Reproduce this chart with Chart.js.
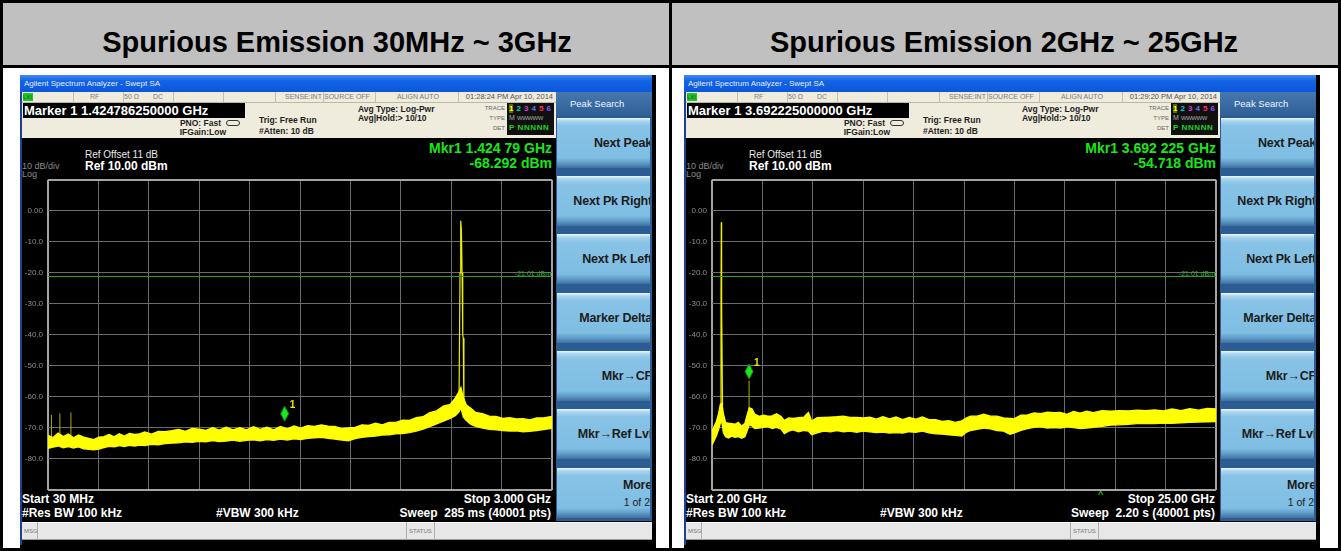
<!DOCTYPE html>
<html>
<head>
<meta charset="utf-8">
<title>Spurious Emission</title>
<script src="https://cdn.jsdelivr.net/npm/chart.js@4.4.0/dist/chart.umd.min.js"></script>
<style>
    html, body { margin: 0; padding: 0; background: #fff; }
    body { width: 1341px; height: 551px; position: relative; overflow: hidden; font-family: "Liberation Sans", Arial, sans-serif; }
    .abs { position: absolute; }
    .t { position: absolute; white-space: nowrap; height: 20px; line-height: 20px; }
    .cell { position: absolute; top: 0; height: 10px; border-left: 1px solid #c4bfae; }
    .key { position: absolute; overflow: hidden; height: 50px;
        background: linear-gradient(to bottom, #eef8fd 0px, #a9d5ef 3px, #88c3e6 8px, #7fbde3 40px, #5f9bc7 45px, #3f6f9d 50px); }
    canvas { position: absolute; }
</style>
</head>
<body>
<div id="page"></div>
<script>
// table titles
var titles = ['Spurious Emission 30MHz ~ 3GHz', 'Spurious Emission 2GHz ~ 25GHz'];

// amplitude axis (dBm)
var yMin = -90, yMax = 10, yStep = 10;
var displayLine = -21.01;

// ---- left screen: 30 MHz .. 3 GHz, x in MHz ----
var leftStart = 30, leftStop = 3000;
var leftFreq = [30, 60, 90, 120, 150, 180, 210, 240, 270, 300, 330, 360, 390, 420, 450, 480, 510, 540, 570, 600,
    640, 680, 720, 760, 800, 840, 880, 920, 960, 1000, 1040, 1080, 1120, 1160, 1200, 1240, 1280, 1320, 1360, 1400,
    1440, 1480, 1520, 1560, 1600, 1640, 1680, 1720, 1760, 1800, 1840, 1880, 1920, 1960, 2000, 2040, 2080, 2120, 2160, 2200,
    2240, 2280, 2320, 2360, 2400, 2430, 2450, 2463, 2478, 2495, 2520, 2550, 2590, 2630, 2670, 2710, 2750, 2790, 2830, 2870,
    2910, 2950, 3000];
var leftUpper = [-72.4, -73.1, -71.7, -72.8, -72.0, -73.2, -72.3, -73.0, -73.4, -73.8, -73.0, -72.8, -72.1, -72.9, -71.9, -72.6, -71.8, -72.1, -71.9, -71.3,
    -72.0, -71.1, -71.2, -70.9, -70.5, -71.1, -70.2, -70.4, -70.8, -69.9, -70.7, -69.8, -70.6, -69.9, -70.6, -69.6, -70.5, -69.8, -70.6, -69.5,
    -70.3, -69.4, -70.1, -69.3, -69.5, -69.0, -69.4, -69.5, -70.2, -70.0, -69.8, -69.0, -69.2, -68.5, -69.0, -68.2, -68.2, -67.5, -67.6, -66.7,
    -66.4, -65.1, -64.5, -63.0, -62.4, -60.4, -58.5, -57.0, -60.3, -62.6, -63.6, -65.0, -65.4, -66.2, -66.3, -66.9, -66.7, -67.1, -67.0, -67.4,
    -66.8, -66.8, -66.3];
var leftLower = [-76.6, -76.2, -75.8, -76.4, -76.0, -76.5, -76.1, -76.7, -76.9, -77.0, -76.8, -76.3, -75.9, -76.1, -75.7, -76.0, -75.6, -75.8, -75.5, -75.7,
    -75.3, -75.4, -75.0, -74.9, -74.8, -74.5, -74.6, -74.3, -74.5, -74.1, -74.4, -74.2, -73.9, -74.3, -74.0, -73.8, -74.1, -73.7, -74.0, -73.6,
    -73.9, -73.5, -73.7, -73.3, -73.2, -73.0, -73.3, -73.6, -73.9, -74.1, -73.4, -73.0, -72.8, -72.6, -72.3, -72.2, -71.9, -71.8, -71.5, -71.0,
    -70.4, -69.6, -68.7, -67.8, -66.9, -66.0, -65.0, -63.5, -66.5, -67.6, -68.8, -69.5, -70.0, -70.4, -70.6, -70.8, -71.0, -70.9, -71.2, -71.1,
    -70.8, -70.5, -70.1];
var leftCarrierFreq = [2452, 2458, 2461, 2463, 2466, 2470, 2474, 2477, 2481];
var leftCarrierLevel = [-62, -20, -4.5, -3.2, -6, -20, -40, -41, -65];
var leftSpurFreq = [50, 100, 165];
var leftSpurLevel = [-65.8, -65.3, -65.0];
var leftMarker = [1424.79, -68.292];

// ---- right screen: 2 .. 25 GHz, x in GHz ----
var rightStart = 2, rightStop = 25;
var rightFreq = [2.00, 2.10, 2.20, 2.30, 2.38, 2.45, 2.52, 2.62, 2.75, 2.90, 3.05, 3.20, 3.35, 3.50, 3.60, 3.70, 3.82, 3.95, 4.15, 4.35,
    4.55, 4.75, 4.95, 5.15, 5.30, 5.50, 5.70, 5.95, 6.20, 6.40, 6.55, 6.80, 7.10, 7.40, 7.70, 8.00, 8.30, 8.60, 8.90, 9.20,
    9.50, 9.80, 10.10, 10.40, 10.70, 11.00, 11.30, 11.60, 11.90, 12.20, 12.50, 12.80, 13.10, 13.40, 13.60, 13.80, 14.10, 14.40, 14.70, 15.00,
    15.30, 15.60, 15.80, 16.10, 16.40, 16.70, 17.00, 17.30, 17.60, 17.90, 18.20, 18.50, 18.80, 19.10, 19.40, 19.80, 20.20, 20.60, 21.00, 21.40,
    21.80, 22.20, 22.60, 23.00, 23.40, 23.80, 24.20, 24.60, 25.00];
var rightUpper = [-71.0, -69.5, -68.0, -65.5, -62.5, -62.0, -65.5, -68.3, -68.5, -68.6, -68.8, -68.2, -69.4, -68.6, -66.0, -63.5, -63.8, -65.5, -66.3, -65.9,
    -66.2, -66.1, -65.4, -66.3, -67.6, -66.8, -66.9, -66.7, -66.5, -65.0, -67.8, -66.7, -66.6, -66.5, -66.4, -66.2, -66.6, -66.6, -66.8, -66.5,
    -67.2, -66.4, -67.1, -66.5, -67.3, -66.6, -67.2, -66.5, -67.3, -67.3, -67.9, -67.7, -68.2, -67.7, -66.8, -66.2, -66.2, -65.6, -66.2, -66.2,
    -66.8, -66.9, -67.0, -65.9, -65.8, -65.2, -65.4, -64.9, -65.1, -65.0, -65.6, -64.7, -65.2, -64.6, -65.1, -64.4, -64.6, -64.4, -64.5, -64.3,
    -64.4, -64.2, -64.5, -63.9, -64.4, -63.8, -64.3, -63.7, -63.9];
var rightLower = [-75.5, -74.0, -72.5, -70.5, -68.5, -68.0, -71.5, -72.8, -73.2, -72.6, -73.0, -72.8, -73.3, -72.8, -71.0, -69.0, -69.3, -70.2, -70.0, -69.8,
    -69.6, -70.2, -69.8, -70.4, -71.8, -71.0, -70.6, -71.2, -70.8, -71.0, -72.2, -71.6, -71.0, -71.2, -70.8, -71.2, -71.0, -71.4, -71.0, -71.2,
    -71.5, -71.3, -71.6, -71.5, -71.6, -71.2, -71.4, -71.0, -71.6, -71.9, -72.0, -72.2, -72.4, -72.6, -71.4, -70.8, -70.4, -70.0, -70.3, -70.8,
    -71.0, -72.0, -71.6, -70.8, -70.2, -69.8, -69.6, -70.0, -69.9, -70.0, -69.6, -69.9, -70.2, -70.0, -69.8, -69.5, -69.1, -69.0, -68.8, -68.6,
    -68.5, -68.6, -68.4, -68.5, -68.3, -68.2, -68.1, -68.0, -67.9];
var rightCarrierFreq = [2.37, 2.41, 2.425, 2.44, 2.48];
var rightCarrierLevel = [-63, -30, -3.7, -30, -63];
var rightSpurFreq = [3.692225];
var rightSpurLevel = [-54.718];
var rightMarker = [3.692225, -54.718];

var softkeys = ['Next Peak', 'Next Pk Right', 'Next Pk Left', 'Marker Delta', 'Mkr\u2192CF', 'Mkr\u2192Ref Lvl', 'More'];

var panels = [
    {
        left: 20, marker: 'Marker 1 1.424786250000 GHz', time: '01:28:24 PM Apr 10, 2014',
        mkr1: 'Mkr1 1.424 79 GHz', mkr2: '-68.292 dBm', start: 'Start 30 MHz', stop: 'Stop 3.000 GHz',
        sweep: 'Sweep\u00a0\u00a0285 ms (40001 pts)'
    },
    {
        left: 684, marker: 'Marker 1 3.692225000000 GHz', time: '01:29:20 PM Apr 10, 2014',
        mkr1: 'Mkr1 3.692 225 GHz', mkr2: '-54.718 dBm', start: 'Start 2.00 GHz', stop: 'Stop 25.00 GHz',
        sweep: 'Sweep\u00a0\u00a02.20 s (40001 pts)', caret: true
    }
];

var page = document.getElementById('page');

function box(x, y, w, h, css) {
    var d = document.createElement('div');
    d.className = 'abs';
    d.style.left = x + 'px'; d.style.top = y + 'px';
    d.style.width = w + 'px'; d.style.height = h + 'px';
    if (css) d.style.cssText += css;
    page.appendChild(d);
    return d;
}

// text at left x (or right edge if right=true), vertically centred on y
function put(str, x, y, css, right) {
    var d = document.createElement('div');
    d.className = 't';
    d.textContent = str;
    d.style.top = (y - 10) + 'px';
    if (right) { d.style.left = (x - 400) + 'px'; d.style.width = '400px'; d.style.textAlign = 'right'; }
    else d.style.left = x + 'px';
    if (css) d.style.cssText += css;
    page.appendChild(d);
    return d;
}

// ---- table ----
box(0, 0, 1341, 551, 'box-sizing:border-box;border:3px solid #000;');
box(3, 3, 1335, 62, 'background:#c0c0c0;');
box(3, 65, 1335, 3, 'background:#000;');
box(669, 3, 3, 545, 'background:#000;');
put(titles[0], 337, 42, 'font-size:29px;font-weight:bold;color:#000;height:34px;line-height:34px;top:25px;left:37px;width:600px;text-align:center;');
put(titles[1], 1004, 42, 'font-size:29px;font-weight:bold;color:#000;height:34px;line-height:34px;top:25px;left:704px;width:600px;text-align:center;');

// ---- analyzer screen chrome ----
function buildScreen(p) {
    var L = p.left;
    box(L, 75, 636, 473, 'background:#000;');
    box(L, 75, 2, 470, 'background:#1d3f96;');
    box(L, 75, 632, 17, 'background:linear-gradient(to bottom,#3f8af4 0%,#1463e6 35%,#0b57dc 100%);');
    put('Agilent Spectrum Analyzer - Swept SA', L + 4, 84, 'font-size:8px;color:#e6eeff;');

    // status row
    var st = box(L + 2, 92, 534, 10, 'background:#efebdd;border-bottom:1px solid #bdb8a8;');
    [53, 103, 153, 203, 255, 303, 355, 438].forEach(function (cx) {
        var c = document.createElement('div'); c.className = 'cell'; c.style.left = (cx - 2) + 'px'; st.appendChild(c);
    });
    box(L + 3, 93, 10, 8, 'background:#22c322;');
    put('LXI', L + 3, 97, 'font-size:6px;color:#063;');
    var sc = 'font-size:7px;color:#7c7c7c;';
    put('RF', L + 70, 97, sc);
    put('50 \u03a9', L + 104, 97, sc);
    put('DC', L + 133, 97, sc);
    put('SENSE:INT', L + 265, 97, sc);
    put('SOURCE OFF', L + 304, 97, sc);
    put('ALIGN AUTO', L + 377, 97, sc);
    put(p.time, L + 533, 97, 'font-size:7.5px;color:#555;', true);

    // settings rows
    box(L + 2, 103, 534, 35, 'background:#efebdd;');
    box(L + 3, 103, 222, 15, 'background:#000;');
    put(p.marker, L + 4, 111, 'font-size:13px;font-weight:bold;color:#fff;');
    var bc = 'font-size:8.5px;font-weight:bold;color:#1e1e1e;';
    put('PNO: Fast', L + 201, 123, bc, true);
    box(L + 206, 120, 14, 6, 'border:1px solid #333;border-radius:3px;box-sizing:border-box;');
    put('IFGain:Low', L + 206, 132, bc, true);
    put('Trig: Free Run', L + 239, 120, bc);
    put('#Atten: 10 dB', L + 239, 131, bc);
    put('Avg Type: Log-Pwr', L + 338, 109, bc);
    put('Avg|Hold:> 10/10', L + 338, 118, bc);
    var lc = 'font-size:6px;color:#666;';
    put('TRACE', L + 485, 108, lc, true);
    put('TYPE', L + 485, 118, lc, true);
    put('DET', L + 485, 128, lc, true);
    box(L + 487, 103, 47, 32, 'background:#101010;');
    var tc = ['#ffff00', '#00d0d0', '#d040d0', '#6070ff', '#ff3060', '#9050ff'];
    for (var i = 0; i < 6; i++) {
        var dg = put(String(i + 1), L + 489 + i * 7.5, 108, 'font-size:8px;font-weight:bold;color:' + tc[i] + ';' + (i === 0 ? 'background:#556b00;' : ''));
        dg.style.top = '104px'; dg.style.height = '9px'; dg.style.lineHeight = '9px';
    }
    put('M', L + 489, 118, 'font-size:7px;color:#aaa;');
    put('WWWWW', L + 497, 118, 'font-size:6px;color:#aaa;letter-spacing:-0.5px;');
    put('P NNNNN', L + 489, 128, 'font-size:8px;font-weight:bold;color:#20d020;letter-spacing:0.6px;');

    // display annotations
    var gc = 'font-size:9px;color:#8c8c8c;';
    put('10 dB/div', L + 2, 166, gc);
    put('Log', L + 2, 174, gc);
    put('Ref Offset 11 dB', L + 65, 155, 'font-size:10px;color:#e8e8e8;');
    put('Ref 10.00 dBm', L + 65, 166, 'font-size:12px;font-weight:bold;color:#fff;');
    put(p.mkr1, L + 532, 148, 'font-size:14px;font-weight:bold;color:#19e619;', true);
    put(p.mkr2, L + 532, 163, 'font-size:14px;font-weight:bold;color:#19e619;', true);
    var wc = 'font-size:12px;font-weight:bold;color:#fff;';
    put(p.start, L + 2, 499, wc);
    put(p.stop, L + 531, 499, wc, true);
    put('#Res BW 100 kHz', L + 2, 513, wc);
    put('#VBW 300 kHz', L + 196, 513, wc);
    put(p.sweep, L + 531, 513, wc, true);
    if (p.caret) put('^', L + 414, 494, 'font-size:9px;font-weight:bold;color:#19c019;');

    // soft keys
    box(L + 536, 92, 96, 429, 'background:#2c5c94;');
    box(L + 536, 92, 96, 24, 'background:linear-gradient(to bottom,#4677ad,#2f5f97);');
    put('Peak Search', L + 550, 104, 'font-size:9.5px;color:#f0f4ff;');
    softkeys.forEach(function (k, i) {
        var b = box(L + 537, 117.7 + i * 58.33, 93, 50, '');
        b.className = 'key';
        var last = i === softkeys.length - 1;
        var s = document.createElement('div');
        s.className = 't';
        s.textContent = k;
        s.style.cssText += 'right:-2px;top:' + (last ? 7 : 15) + 'px;font-size:12.5px;font-weight:bold;color:#1c1c1c;letter-spacing:-0.2px;';
        b.appendChild(s);
        if (last) {
            var s2 = document.createElement('div');
            s2.className = 't';
            s2.textContent = '1 of 2';
            s2.style.cssText += 'right:0px;top:24px;font-size:10.5px;color:#1c1c1c;';
            b.appendChild(s2);
        }
    });

    // message bar
    box(L + 2, 522, 630, 18, 'background:#e7e7e7;border-top:1px solid #fafafa;border-bottom:1px solid #9a9a9a;box-sizing:border-box;');
    box(L + 17, 522, 1, 18, 'background:#b0b0b0;');
    box(L + 386, 522, 1, 18, 'background:#b0b0b0;');
    box(L + 414, 522, 1, 18, 'background:#b0b0b0;');
    put('MSG', L + 4, 531, 'font-size:6px;color:#777;');
    put('STATUS', L + 389, 531, 'font-size:6px;color:#777;');
}

panels.forEach(buildScreen);

// ---- traces ----
function pts(xs, ys) {
    return xs.map(function (x, i) { return { x: x, y: ys[i] }; });
}
function spurPts(xs, ys, base) {
    var out = [];
    xs.forEach(function (x, i) {
        out.push({ x: x, y: base }); out.push({ x: x, y: ys[i] }); out.push({ x: x, y: null });
    });
    return out;
}

function overlay(marker, lineLevel) {
    return {
        id: 'overlay',
        afterDatasetsDraw: function (chart) {
            var ctx = chart.ctx, a = chart.chartArea;
            var xs = chart.scales.x, ys = chart.scales.y;
            ctx.save();
            // display line
            var ly = Math.round(ys.getPixelForValue(lineLevel)) + 0.5;
            ctx.strokeStyle = '#2aa02a'; ctx.lineWidth = 1;
            ctx.beginPath(); ctx.moveTo(a.left, ly); ctx.lineTo(a.right, ly); ctx.stroke();
            ctx.fillStyle = '#2ab82a'; ctx.font = '7px "Liberation Sans"';
            ctx.textAlign = 'right'; ctx.textBaseline = 'bottom';
            ctx.fillText(lineLevel.toFixed(2) + ' dBm', a.right - 1, ly + 1);
            // marker diamond
            var mx = xs.getPixelForValue(marker[0]), my = ys.getPixelForValue(marker[1]) - 1.5;
            ctx.fillStyle = '#1ee61e'; ctx.strokeStyle = '#0a8a0a';
            ctx.beginPath();
            ctx.moveTo(mx, my); ctx.lineTo(mx + 4, my - 7.5); ctx.lineTo(mx, my - 15); ctx.lineTo(mx - 4, my - 7.5);
            ctx.closePath(); ctx.fill(); ctx.stroke();
            ctx.fillStyle = '#f0e800'; ctx.font = 'bold 10px "Liberation Sans"';
            ctx.textAlign = 'left'; ctx.textBaseline = 'middle';
            ctx.fillText('1', mx + 5, my - 16);
            ctx.restore();
        }
    };
}

function makeChart(p, start, stop, band, carrier, spurs, marker) {
    var c = document.createElement('canvas');
    c.width = 540; c.height = 330;
    c.style.left = p.left + 'px'; c.style.top = '170px';
    page.appendChild(c);
    var step = (stop - start) / 10;
    new Chart(c.getContext('2d'), {
        type: 'line',
        data: {
            datasets: [
                { data: band[0], borderColor: '#ffff00', backgroundColor: '#ffff00', borderWidth: 1.4, fill: '+1', pointRadius: 0, tension: 0 },
                { data: band[1], borderColor: '#f4f400', borderWidth: 1.4, fill: false, pointRadius: 0, tension: 0 },
                { data: carrier, borderColor: '#eeee00', borderWidth: 1.2, fill: false, pointRadius: 0, tension: 0 },
                { data: spurs, borderColor: '#b8aa00', borderWidth: 1, fill: false, pointRadius: 0, spanGaps: false }
            ]
        },
        options: {
            responsive: false,
            devicePixelRatio: 1,
            animation: false,
            layout: { padding: { top: 6, right: 8, bottom: 10, left: 0 } },
            plugins: { legend: { display: false }, tooltip: { enabled: false } },
            scales: {
                x: {
                    type: 'linear', min: start, max: stop,
                    afterBuildTicks: function (s) {
                        var t = [];
                        for (var i = 0; i <= 10; i++) t.push({ value: start + step * i });
                        s.ticks = t;
                    },
                    afterFit: function (s) { s.height = 0; },
                    ticks: { display: false },
                    border: { display: false },
                    grid: {
                        drawTicks: false,
                        color: function (ctx) { return (ctx.index === 0 || ctx.index === 10) ? '#a4a4a4' : '#6c6c6c'; },
                        lineWidth: function (ctx) { return (ctx.index === 0 || ctx.index === 10) ? 2 : 1; }
                    }
                },
                y: {
                    min: yMin, max: yMax,
                    afterFit: function (s) { s.width = 28; },
                    ticks: {
                        stepSize: yStep, padding: 5, color: '#8e8e8e',
                        font: { family: 'Liberation Sans', size: 8 },
                        callback: function (v) {
                            if (v === yMax || v === yMin) return '';
                            return v === 0 ? '0.00' : v.toFixed(1);
                        }
                    },
                    border: { display: false },
                    grid: {
                        drawTicks: false,
                        color: function (ctx) { return (ctx.tick.value === yMin || ctx.tick.value === yMax) ? '#a4a4a4' : '#6c6c6c'; },
                        lineWidth: function (ctx) { return (ctx.tick.value === yMin || ctx.tick.value === yMax) ? 2 : 1; }
                    }
                }
            }
        },
        plugins: [overlay(marker, displayLine)]
    });
}

makeChart(panels[0], leftStart, leftStop,
    [pts(leftFreq, leftUpper), pts(leftFreq, leftLower)],
    pts(leftCarrierFreq, leftCarrierLevel),
    spurPts(leftSpurFreq, leftSpurLevel, -73),
    leftMarker);

makeChart(panels[1], rightStart, rightStop,
    [pts(rightFreq, rightUpper), pts(rightFreq, rightLower)],
    pts(rightCarrierFreq, rightCarrierLevel),
    spurPts(rightSpurFreq, rightSpurLevel, -66),
    rightMarker);
</script>
</body>
</html>
